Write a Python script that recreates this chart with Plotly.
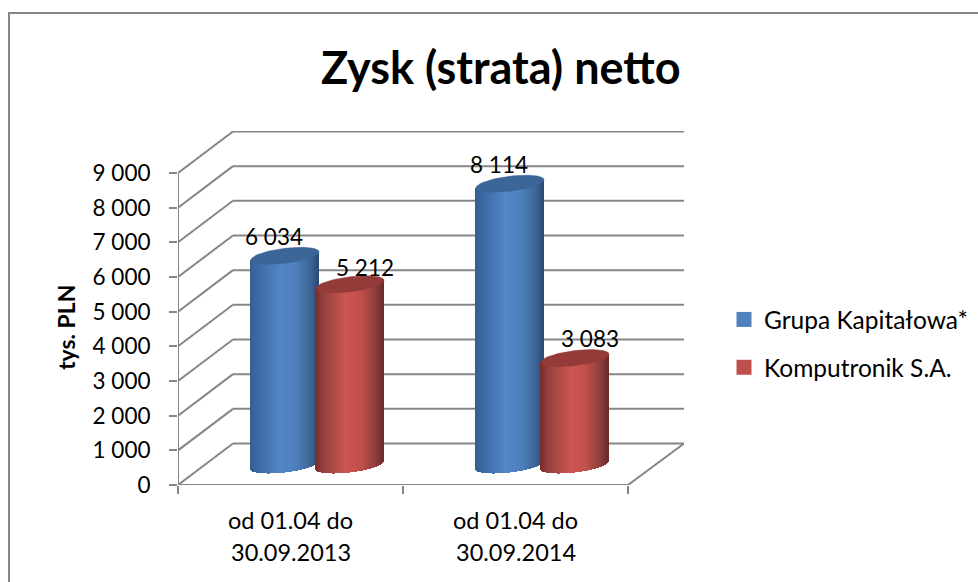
import math
import plotly.graph_objects as go

categories = ["od 01.04 do|30.09.2013", "od 01.04 do|30.09.2014"]
series_names = ["Grupa Kapitałowa*", "Komputronik S.A."]
group_values = [6034, 8114]
komputronik_values = [5212, 3083]
y_ticks = [0, 1000, 2000, 3000, 4000, 5000, 6000, 7000, 8000, 9000]
y_labels = ["0", "1 000", "2 000", "3 000", "4 000", "5 000", "6 000", "7 000", "8 000", "9 000"]
title_text = "Zysk (strata) netto"
axis_title = "tys. PLN"

W, H = 978, 582
L, R, T, B = 178, 684, 131, 485
PX_X = 225.0
PX_Y = 0.03467
XMAX = (R - L) / PX_X
YMAX = (B - T) / PX_Y
DX = 55 / PX_X
DY = 41.5 / PX_Y
FLOOR = 20 / PX_Y
GRAY = "#868686"
FONT = "Lato, Carlito, sans-serif"
TXT = 22.5

def hex2(c):
    return [int(c[i:i + 2], 16) for i in (1, 3, 5)]

def ramp(stops, u):
    for (a, ca), (b, cb) in zip(stops, stops[1:]):
        if a <= u <= b:
            t = (u - a) / (b - a)
            ca, cb = hex2(ca), hex2(cb)
            return "rgb(%d,%d,%d)" % tuple(round(p + (q - p) * t) for p, q in zip(ca, cb))
    return stops[-1][1]

BLUE = [(0, "#335e90"), (.12, "#3c6ba3"), (.45, "#5186c8"), (.68, "#4d7fbb"), (.88, "#3e6798"), (1, "#2b4c74")]
RED = [(0, "#752d2b"), (.12, "#93403d"), (.45, "#ce5552"), (.68, "#c04f4c"), (.88, "#8f3f3c"), (1, "#6b2a28")]
TOPS = ["#3c6698", "#943b39"]

A = 34 / PX_X           # half width
BH = 7.5 / PX_Y         # half height
SHEAR = 4.0 / PX_Y      # tilt of the rim

CENTERS = [[285, 510], [350, 575]]
CENTERS = [[(c - L) / PX_X for c in s] for s in CENTERS]

fig = go.Figure()

def cylinder(values, centers, name, stops, top):
    xs, ys, bases, cols = [], [], [], []
    n = 68
    for v, c in zip(values, centers):
        for i in range(n):
            u = (i + .5) / n
            s = 2 * u - 1
            arc = math.sqrt(max(0, 1 - s * s))
            bot = FLOOR + SHEAR * s - BH * arc
            t = v + FLOOR + SHEAR * s
            xs.append(c + s * A)
            bases.append(bot)
            ys.append(t - bot)
            cols.append(ramp(stops, u))
    fig.add_trace(go.Bar(x=xs, y=ys, base=bases, width=1.4 / PX_X, marker=dict(color=cols, line=dict(width=0)),
                         showlegend=False, name=name, hoverinfo="skip"))
    for v, c in zip(values, centers):
        ex, ey = [], []
        for k in range(73):
            a = 2 * math.pi * k / 72
            ex.append(c + A * math.cos(a))
            ey.append(v + FLOOR + SHEAR * math.cos(a) + BH * math.sin(a))
        fig.add_trace(go.Scatter(x=ex, y=ey, mode="lines", fill="toself", fillcolor=top,
                                 line=dict(color=top, width=.5), showlegend=False, hoverinfo="skip"))

cylinder(group_values, CENTERS[0], series_names[0], BLUE, TOPS[0])
cylinder(komputronik_values, CENTERS[1], series_names[1], RED, TOPS[1])

# data labels
lab_x = [c - 11 / PX_X for c in CENTERS[0]] + [c + 15 / PX_X for c in CENTERS[1]]
lab_v = group_values + komputronik_values
lab_gap = [16.5, 16.5, 14, 16.5]
lab_y = [v + FLOOR + g / PX_Y for v, g in zip(lab_v, lab_gap)]
lab_t = [f"{v:,}".replace(",", " ") for v in lab_v]
fig.add_trace(go.Scatter(x=lab_x, y=lab_y, mode="text", text=lab_t, textposition="middle center",
                         textfont=dict(family=FONT, size=TXT, color="black"), showlegend=False, hoverinfo="skip"))

# legend entries
for name, col in zip(series_names, ["#4f81bd", "#c0504d"]):
    fig.add_trace(go.Scatter(x=[None], y=[None], mode="markers", name=name, legendgroup=name,
                             marker=dict(symbol="square", size=15, color=col)))

shapes = []
def seg(x0, y0, x1, y1, w=2):
    shapes.append(dict(type="line", xref="x", yref="y", x0=x0, y0=y0, x1=x1, y1=y1, layer="below",
                       line=dict(color=GRAY, width=w)))
for v in y_ticks:
    seg(0, v, DX, v + DY)
    seg(DX, v + DY, XMAX, v + DY)
seg(0, 0, 0, y_ticks[-1])
seg(0, 0, 2, 0)
seg(2, 0, XMAX, DY)
# outer frame (runs off the right and bottom of the picture)
def px(x): return (x - L) / (R - L)
def py(y): return (B - y) / (B - T)
shapes.append(dict(type="rect", xref="paper", yref="paper", x0=px(9), x1=px(1000), y0=py(600), y1=py(13),
                   layer="below", line=dict(color=GRAY, width=2)))

annotations = []
for i, c in enumerate(categories):
    for j, line in enumerate(c.split("|")):
        annotations.append(dict(x=i + .5, xref="x", y=py(520 + 32 * j), yref="paper", text=line, showarrow=False,
                                xanchor="center", yanchor="middle", font=dict(family=FONT, size=23.5, color="black")))
annotations.append(dict(x=px(66), y=py(327), xref="paper", yref="paper", text="<b>%s</b>" % axis_title, textangle=-90,
                        showarrow=False, xanchor="center", yanchor="middle", font=dict(family=FONT, size=23, color="black")))
annotations.append(dict(x=px(501), y=py(67), xref="paper", yref="paper", text="<b>%s</b>" % title_text,
                        showarrow=False, xanchor="center", yanchor="middle", font=dict(family=FONT, size=45, color="black")))

fig.update_layout(
    width=W, height=H, autosize=False, paper_bgcolor="white", plot_bgcolor="white",
    margin=dict(l=L, r=W - R, t=T, b=H - B, autoexpand=False), barmode="overlay", bargap=0,
    shapes=shapes, annotations=annotations, hovermode=False,
    xaxis=dict(range=[0, XMAX], showgrid=False, zeroline=False, showline=False, tickmode="array",
               tickvals=[], showticklabels=False, fixedrange=True,
               minor=dict(tickmode="array", tickvals=[0, 1, 2], ticks="outside", ticklen=8, tickwidth=2, tickcolor=GRAY)),
    yaxis=dict(range=[0, YMAX], showgrid=False, zeroline=False, showline=False, tickmode="array",
               tickvals=y_ticks, ticktext=y_labels, ticks="outside", ticklen=8, tickwidth=2, tickcolor=GRAY,
               ticklabelstandoff=14, tickfont=dict(family=FONT, size=TXT, color="black"), fixedrange=True),
    legend=dict(x=px(724), y=py(297), xanchor="left", yanchor="top", tracegroupgap=13, bgcolor="rgba(0,0,0,0)",
                entrywidth=210, entrywidthmode="pixels",
                font=dict(family=FONT, size=24.5, color="black"), itemclick=False, itemdoubleclick=False),
    showlegend=True,
)
fig.write_html("out.html", config={"displayModeBar": False},
               post_script="document.body.style.margin='0';")
